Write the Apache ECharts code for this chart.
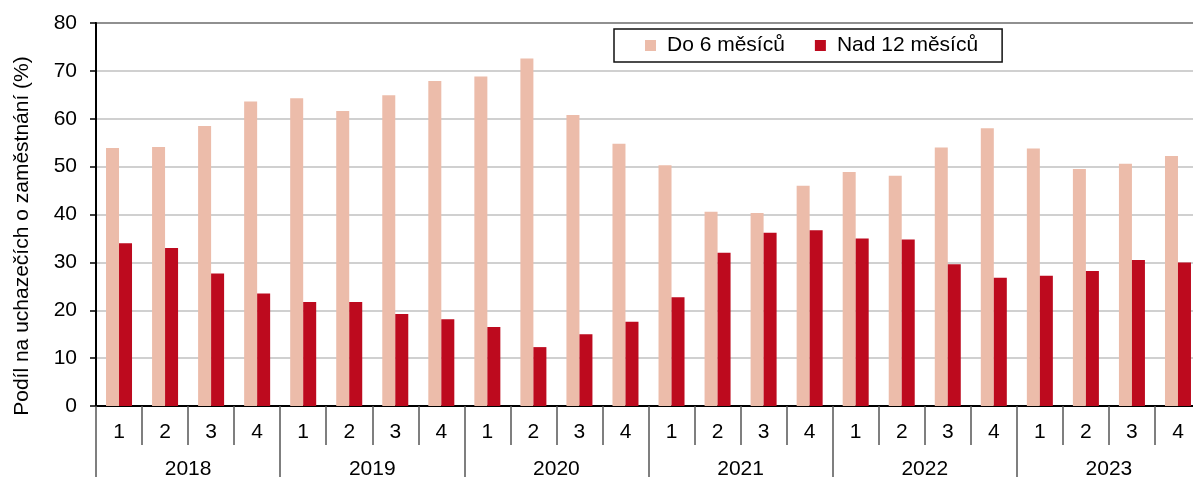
<!DOCTYPE html>
<html>
<head>
<meta charset="utf-8">
<script src="https://cdn.jsdelivr.net/npm/echarts@6/dist/echarts.min.js"></script>
<style>
	html, body { margin: 0; padding: 0; background: #fff; overflow: hidden; }
	#chart { width: 1193px; height: 477px; }
</style>
</head>
<body>
<div id="chart"></div>
<script>
var quarters = ['1','2','3','4','1','2','3','4','1','2','3','4','1','2','3','4','1','2','3','4','1','2','3','4'];
var years = ['2018', '2019', '2020', '2021', '2022', '2023'];
var do6 = [53.9, 54.1, 58.5, 63.6, 64.3, 61.6, 64.9, 67.9, 68.8, 72.6, 60.8, 54.8, 50.3, 40.6, 40.3, 46.0, 48.9, 48.1, 54.0, 58.0, 53.8, 49.5, 50.6, 52.2];
var nad12 = [34.0, 33.0, 27.7, 23.5, 21.7, 21.7, 19.2, 18.1, 16.5, 12.3, 15.0, 17.6, 22.7, 32.0, 36.2, 36.7, 35.0, 34.8, 29.6, 26.8, 27.2, 28.2, 30.5, 30.0];
var yTicks = [0, 10, 20, 30, 40, 50, 60, 70, 80];

var FONT = '"Liberation Sans", Arial, sans-serif';
var chart = echarts.init(document.getElementById('chart'));

chart.setOption({
	animation: false,
	textStyle: { fontFamily: FONT, color: '#000' },
	grid: {
		left: 96, top: 23, width: 1105, height: 383,
		outerBoundsMode: 'none',
		containLabel: false,
		show: true, borderColor: '#000', borderWidth: 2
	},
	legend: {
		left: 614, top: 29,
		padding: [6, 24, 6, 31],
		itemWidth: 11, itemHeight: 11, itemGap: 30,
		borderColor: '#111', borderWidth: 1.5,
		icon: 'rect',
		textStyle: { fontFamily: FONT, fontSize: 21, color: '#000', padding: [0, 0, 0, 6] },
		data: ['Do 6 měsíců', 'Nad 12 měsíců']
	},
	xAxis: [{
		type: 'category',
		position: 'bottom',
		data: quarters,
		axisLine: { lineStyle: { color: '#000', width: 2 } },
		axisTick: { show: true, interval: 0, length: 39, lineStyle: { color: '#555', width: 1.5 } },
		axisLabel: { interval: 0, margin: 16, fontSize: 21, color: '#000', fontFamily: FONT }
	}, {
		type: 'category',
		position: 'bottom',
		data: years,
		axisLine: { show: false },
		axisTick: { show: true, interval: 0, length: 75, lineStyle: { color: '#555', width: 1.5 } },
		axisLabel: { interval: 0, margin: 53, fontSize: 21, color: '#000', fontFamily: FONT }
	}],
	yAxis: {
		type: 'value',
		min: yTicks[0], max: yTicks[yTicks.length - 1], interval: 10,
		axisLine: { show: true, lineStyle: { color: '#000', width: 2 } },
		axisTick: { show: true, length: 6, lineStyle: { color: '#000', width: 1.5 } },
		axisLabel: { margin: 19, fontSize: 21, color: '#000', fontFamily: FONT },
		splitLine: { lineStyle: { color: '#c0c0c0', width: 1.5 } }
	},
	graphic: [{
		type: 'text',
		x: 22, y: 236,
		rotation: Math.PI / 2,
		style: {
			text: 'Podíl na uchazečích o zaměstnání (%)',
			font: '21px ' + FONT,
			fill: '#000',
			align: 'center',
			verticalAlign: 'middle'
		}
	}],
	series: [{
		name: 'Do 6 měsíců',
		type: 'bar',
		xAxisIndex: 0,
		data: do6,
		barWidth: 13,
		barGap: '0%',
		itemStyle: { color: '#ecbcaa' }
	}, {
		name: 'Nad 12 měsíců',
		type: 'bar',
		xAxisIndex: 0,
		data: nad12,
		barWidth: 13,
		itemStyle: { color: '#bd0a1e' }
	}]
});
</script>
</body>
</html>
